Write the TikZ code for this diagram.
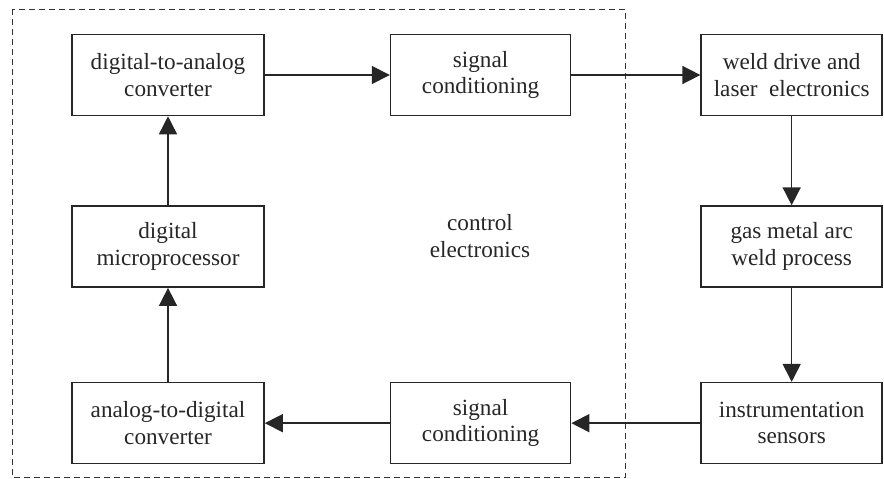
\documentclass[tikz,border=0pt]{standalone}
\usepackage{fontspec}
\setmainfont{Liberation Serif}
\usetikzlibrary{positioning}
\usetikzlibrary{arrows.meta}

\begin{document}
\begin{tikzpicture}[
    block/.style={rectangle, draw=black!85, line width=0.9pt, minimum width=3.84cm, minimum height=1.62cm, align=center, font=\fontsize{13.2}{15}\selectfont, text=black!85},
    flow/.style={-{Triangle[length=0.36cm, width=0.36cm]}, line width=0.9pt, draw=black!85}
]
    \useasboundingbox (0,0) rectangle (17.68,-9.56);

    \node [block] (dac) at (3.36,-1.5) {digital-to-analog\\converter};
    \node [block, below=1.78cm of dac] (micro) {digital\\microprocessor};
    \node [block, below=1.88cm of micro] (adc) {analog-to-digital\\converter};
    \node [block, minimum width=3.6cm, right=2.5cm of dac] (sig_top) {signal\\conditioning};
    \node [block, minimum width=3.6cm, right=2.5cm of adc] (sig_bottom) {signal\\conditioning};
    \node [block, minimum width=3.62cm, right=2.58cm of sig_top] (weld_drive) {weld drive and\\laser\ \ electronics};
    \node [block, minimum width=3.62cm, below=1.78cm of weld_drive] (gas_arc) {gas metal arc\\weld process};
    \node [block, minimum width=3.62cm, below=1.88cm of gas_arc] (sensors) {instrumentation\\sensors};
    \node [align=center, font=\fontsize{13.2}{15}\selectfont, text=black!85] (ctrl_label) at (9.6,-4.72) {control\\electronics};
    \draw[dashed, dash pattern=on 0.12cm off 0.08cm, line width=0.8pt, black!80] ([xshift=-1.18cm, yshift=0.49cm] dac.north west) rectangle ([xshift=1.08cm, yshift=-0.26cm] sig_bottom.south east);

    \draw [flow] (dac) -- (sig_top);
    \draw [flow] (sig_top) -- (weld_drive);
    \draw [flow] (weld_drive) -- (gas_arc);
    \draw [flow] (gas_arc) -- (sensors);
    \draw [flow] (sensors) -- (sig_bottom);
    \draw [flow] (sig_bottom) -- (adc);
    \draw [flow] (adc) -- (micro);
    \draw [flow] (micro) -- (dac);
\end{tikzpicture}
\end{document}
